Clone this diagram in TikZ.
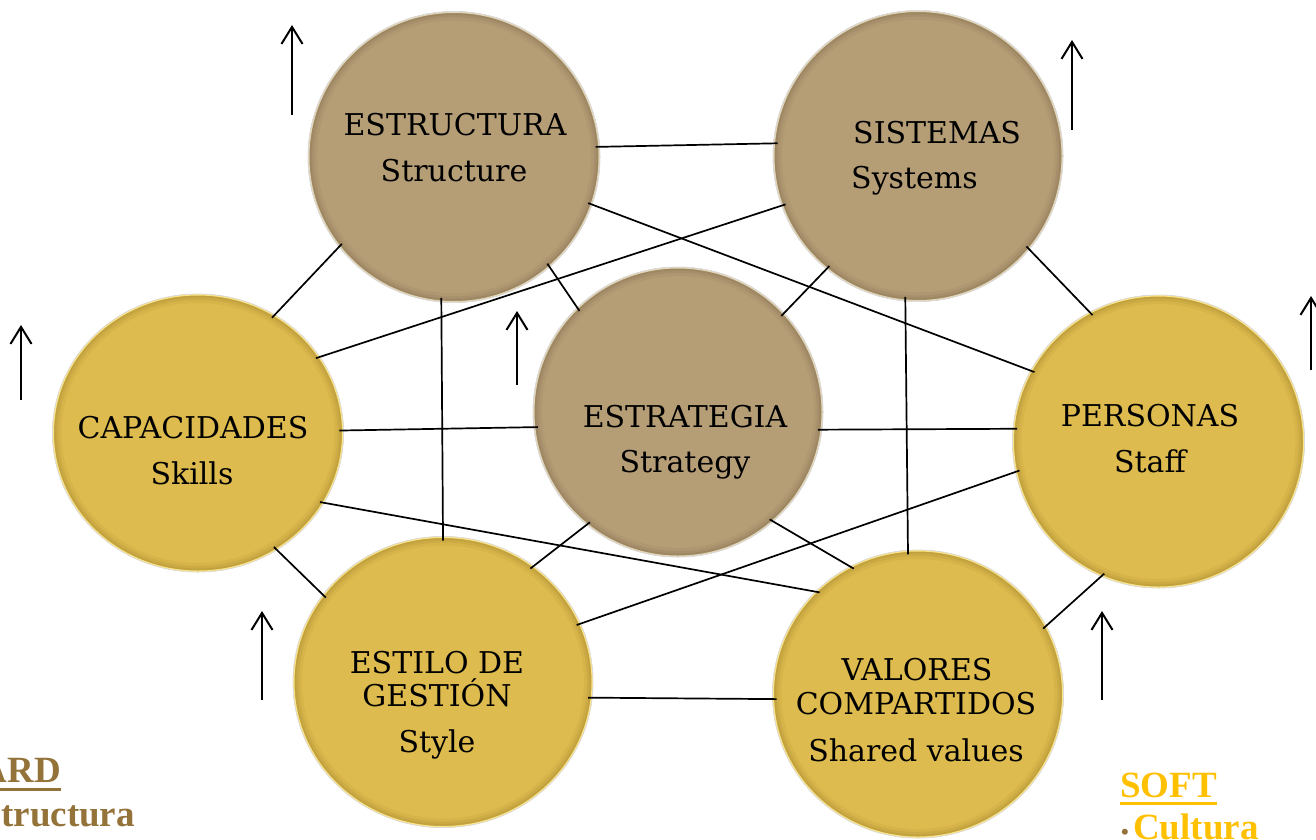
\documentclass[tikz,border=0pt]{standalone}
\usepackage{fontspec}
\setmainfont{DejaVu Serif}
\newfontfamily\tnr{Liberation Serif}
\usetikzlibrary{shapes.geometric,arrows.meta,calc}
\definecolor{tanbase}{RGB}{181,157,118}
\definecolor{tandark}{RGB}{120,100,70}
\definecolor{tanlight}{RGB}{226,212,180}
\definecolor{yelbase}{RGB}{222,187,78}
\definecolor{yeldark}{RGB}{150,120,40}
\definecolor{yellight}{RGB}{252,228,130}
\definecolor{hardcol}{RGB}{148,115,58}
\definecolor{softcol}{RGB}{255,192,0}
\newcommand\rimdraw[2]{%
  \foreach \w/\o in {18/0.10,12/0.14,7/0.18}{%
    \path[draw=#1, line width=\w pt, draw opacity=\o] let \p1=(path picture bounding box.north east), \p2=(path picture bounding box.center) in (\p2) ellipse [x radius={\x1-\x2}, y radius={\y1-\y2}];}%
  \path[draw=#2, line width=3pt] let \p1=(path picture bounding box.north east), \p2=(path picture bounding box.center) in (\p2) ellipse [x radius={\x1-\x2}, y radius={\y1-\y2}];%
}
\begin{document}
\begin{tikzpicture}[x=1pt,y=-1pt,
  ball/.style={ellipse, inner sep=0pt, outer sep=0pt, draw=black!14, line width=0.8pt},
  tanball/.style={ball, fill=tanbase, path picture={\rimdraw{tandark}{tanlight}}},
  yelball/.style={ball, fill=yelbase, path picture={\rimdraw{yeldark}{yellight}}},
  lbl/.style={anchor=base, inner sep=0pt, text=black, font=\fontsize{30}{36}\selectfont},
  conn/.style={draw=black, line width=1.7pt, shorten <=-4pt, shorten >=-4pt},
  uparrow/.style={draw=black, line width=2pt, -{Straight Barb[length=17pt,width=21pt]}},
  hardtxt/.style={anchor=base west, inner sep=0pt, text=hardcol, font=\tnr\bfseries\fontsize{37}{44}\selectfont},
  softtxt/.style={anchor=base west, inner sep=0pt, text=softcol, font=\tnr\bfseries\fontsize{37}{44}\selectfont},
  bul/.style={anchor=base, inner sep=0pt, text=hardcol, font=\tnr\bfseries\fontsize{22}{26}\selectfont}
]
\useasboundingbox (0,0) rectangle (1316,839);
\fill[white] (0,0) rectangle (1316,839);
\clip (0,0) rectangle (1316,839);

% circles
\node[tanball, minimum width=292pt, minimum height=291pt] (es) at (454,157) {};
\node[tanball, minimum width=290pt, minimum height=291pt] (si) at (918,156) {};
\node[tanball, minimum width=290pt, minimum height=290pt] (et) at (678,412) {};
\node[yelball, minimum width=291pt, minimum height=278pt] (ca) at (198,433) {};
\node[yelball, minimum width=292pt, minimum height=293pt] (pe) at (1158.5,441.5) {};
\node[yelball, minimum width=300pt, minimum height=291pt] (el) at (443,682) {};
\node[yelball, minimum width=291pt, minimum height=288pt] (va) at (918,694) {};

% connectors
\draw[conn] (es.4.7) -- (si.175.65);
\draw[conn] (es.-19) -- (pe.151.1);
\draw[conn] (si.200.5) -- (ca.32.3);
\draw[conn] (es.218.2) -- (ca.57.5);
\draw[conn] (es.-49.3) -- (et.134.2);
\draw[conn] (es.265.4) -- (el.90);
\draw[conn] (si.231.7) -- (et.43.4);
\draw[conn] (si.-40.8) -- (pe.118.3);
\draw[conn] (si.265.5) -- (va.94.4);
\draw[conn] (ca.1.2) -- (et.186.8);
\draw[conn] (et.-7.3) -- (pe.175.9);
\draw[conn] (ca.-29.9) -- (va.135.6);
\draw[conn] (pe.192.9) -- (el.23);
\draw[conn] (ca.-56) -- (el.144.1);
\draw[conn] (et.231.5) -- (el.52.7);
\draw[conn] (et.-49) -- (va.118.8);
\draw[conn] (pe.247.8) -- (va.28.9);
\draw[conn] (el.-6.5) -- (va.182.4);

% labels
\node[lbl] (es1) at (455,135) {ESTRUCTURA};
\node[lbl] (es2) at (454,181) {Structure};
\node[lbl, anchor=base west] (si1) at (853,143) {SISTEMAS};
\node[lbl, anchor=base west] (si2) at (851,188) {Systems};
\node[lbl] (ca1) at (193,438) {CAPACIDADES};
\node[lbl] (ca2) at (192,484) {Skills};
\node[lbl] (et1) at (685,427) {ESTRATEGIA};
\node[lbl] (et2) at (685,472) {Strategy};
\node[lbl] (pe1) at (1150,426) {PERSONAS};
\node[lbl] (pe2) at (1150,472) {Staff};
\node[lbl] (el1) at (437,673) {ESTILO DE};
\node[lbl] (el2) at (437,706) {GESTIÓN};
\node[lbl] (el3) at (437,752) {Style};
\node[lbl] (va1) at (917,680) {VALORES};
\node[lbl] (va2) at (916,714) {COMPARTIDOS};
\node[lbl] (va3) at (916,761) {Shared values};

% up arrows
\coordinate (a1s) at (292,115); \coordinate (a1e) at (292,25);
\coordinate (a2s) at (1072,130); \coordinate (a2e) at (1072,40);
\coordinate (a3s) at (21,400); \coordinate (a3e) at (21,325);
\coordinate (a4s) at (517,385); \coordinate (a4e) at (517,311);
\coordinate (a5s) at (1311,370); \coordinate (a5e) at (1311,296);
\coordinate (a6s) at (262,700); \coordinate (a6e) at (262,611);
\coordinate (a7s) at (1102,700); \coordinate (a7e) at (1102,611);
\draw[uparrow] (a1s) -- (a1e);
\draw[uparrow] (a2s) -- (a2e);
\draw[uparrow] (a3s) -- (a3e);
\draw[uparrow] (a4s) -- (a4e);
\draw[uparrow] (a5s) -- (a5e);
\draw[uparrow] (a6s) -- (a6e);
\draw[uparrow] (a7s) -- (a7e);

% HARD / SOFT
\node[hardtxt] (hard) at (-48,782) {HARD};
\draw[hardcol, line width=3pt] ([yshift=-7.5pt]hard.base west) -- ([yshift=-7.5pt]hard.base east);
\node[bul] (hardb) at (-46,826) {•};
\node[hardtxt] (hardl) at (-38,826) {Estructura};
\node[softtxt] (soft) at (1120,797) {SOFT};
\draw[softcol, line width=3pt] ([yshift=-6.5pt]soft.base west) -- ([yshift=-6.5pt]soft.base east);
\node[bul] (softb) at (1125,839) {•};
\node[softtxt] (softl) at (1133,839) {Cultura};
\end{tikzpicture}
\end{document}
